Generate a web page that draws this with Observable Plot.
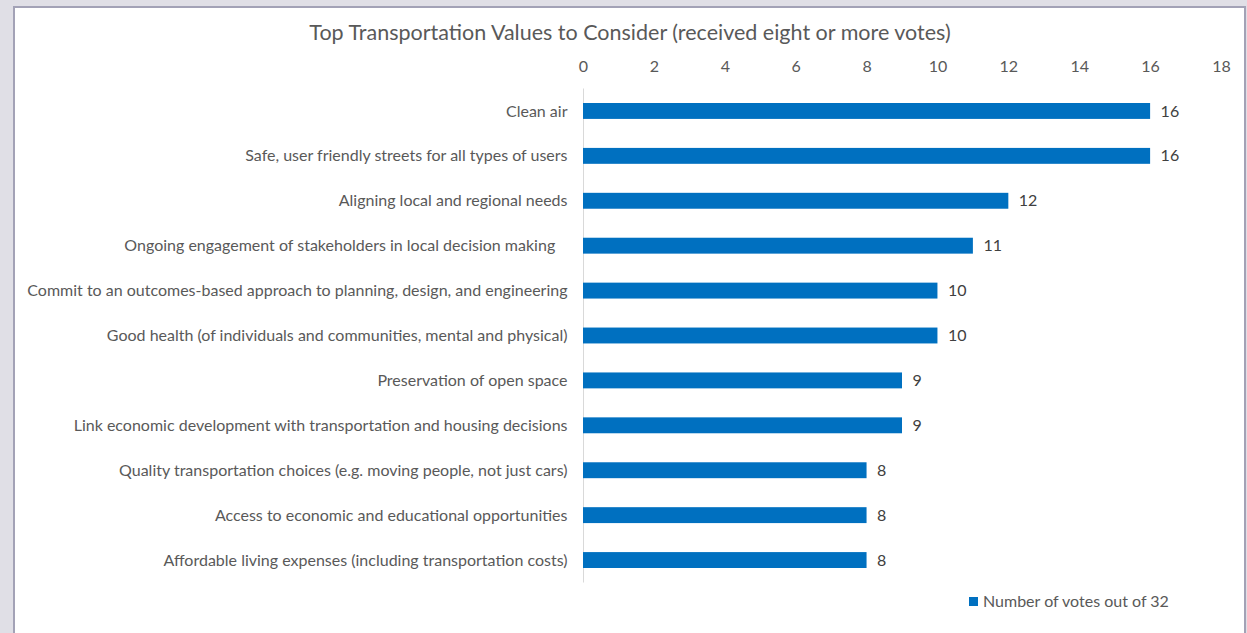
<!DOCTYPE html>
<html>
<head>
<meta charset="utf-8">
<script src="https://cdn.jsdelivr.net/npm/d3@7"></script>
<script src="https://cdn.jsdelivr.net/npm/@observablehq/plot@0.6"></script>
<style>
  html, body { margin: 0; padding: 0; }
  body { width: 1247px; height: 633px; background: #e0dfe6; position: relative; overflow: hidden; font-family: Lato, "Open Sans", sans-serif; }
  #panel { position: absolute; left: 13px; top: 6px; width: 1229px; height: 640px; background: #fff; border: 2px solid #a3a2b6; }
  #title { position: absolute; left: 0; width: 1260px; text-align: center; top: 19px; font-size: 21.5px; color: #595959; line-height: 26px; }
  #chart { position: absolute; left: 0; top: 0; }
  #legend { position: absolute; left: 969px; top: 591px; font-size: 16px; color: #595959; line-height: 20px; display: flex; align-items: center; }
  #legend .sw { width: 9px; height: 9px; background: #0070C0; margin-right: 5px; }
  #chart svg .ylab text { white-space: pre; }
</style>
</head>
<body>
<div id="panel"></div>
<div id="title">Top Transportation Values to Consider (received eight or more votes)</div>
<div id="chart"></div>
<div id="legend"><span class="sw"></span><span>Number of votes out of 32</span></div>
<script>
const categories = [
  "Clean air",
  "Safe, user friendly streets for all types of users",
  "Aligning local and regional needs",
  "Ongoing engagement of stakeholders in local decision making   ",
  "Commit to an outcomes-based approach to planning, design, and engineering",
  "Good health (of individuals and communities, mental and physical)",
  "Preservation of open space",
  "Link economic development with transportation and housing decisions",
  "Quality transportation choices (e.g. moving people, not just cars)",
  "Access to economic and educational opportunities",
  "Affordable living expenses (including transportation costs)"
];
const votes = [16, 16, 12, 11, 10, 10, 9, 9, 8, 8, 8];
const xTicks = [0, 2, 4, 6, 8, 10, 12, 14, 16, 18];
const seriesName = "Number of votes out of 32";

const data = categories.map((c, i) => ({category: c, votes: votes[i]}));

const chart = Plot.plot({
  width: 1247,
  height: 633,
  marginLeft: 583,
  marginRight: 26,
  marginTop: 88.5,
  marginBottom: 50.5,
  style: { fontFamily: "Lato, 'Open Sans', sans-serif", fontSize: "16px", color: "#595959", background: "transparent", overflow: "visible" },
  x: { domain: [0, 18], ticks: xTicks, axis: null, label: null },
  y: { domain: categories, padding: 0, round: false, axis: null, label: null },
  marks: [
    Plot.axisX({ anchor: "top", ticks: xTicks, tickSize: 0, tickPadding: 17, fontSize: 16, fill: "#595959", label: null }),
    Plot.axisY({ anchor: "left", tickSize: 0, tickPadding: 16, fontSize: 16, fill: "#595959", className: "ylab", label: null }),
    Plot.ruleX([0], { stroke: "#d9d9d9", strokeWidth: 1 }),
    Plot.barX(data, { x: "votes", y: "category", fill: "#0070C0", insetTop: 14.5, insetBottom: 14.5 }),
    Plot.text(data, { x: "votes", y: "category", text: d => String(d.votes), dx: 10, textAnchor: "start", fill: "#404040", fontSize: 16 })
  ]
});
document.getElementById("chart").appendChild(chart);
</script>
</body>
</html>
